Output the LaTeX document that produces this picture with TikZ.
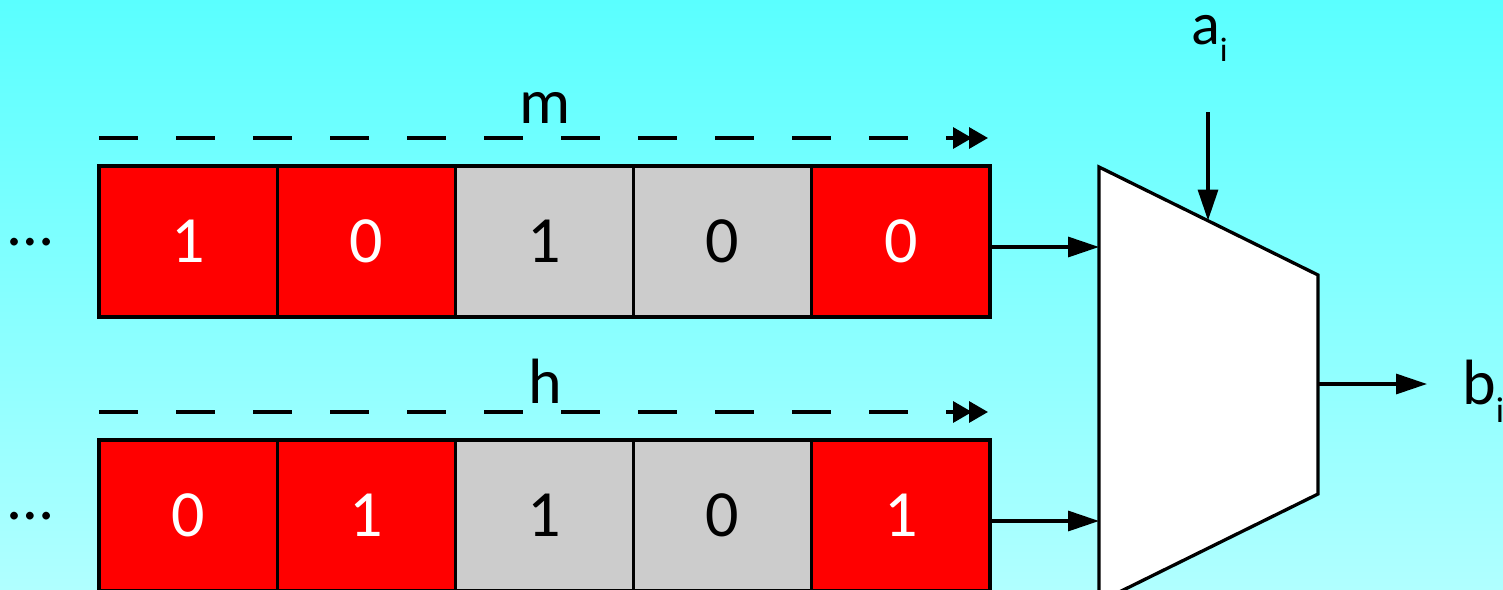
\documentclass[tikz,border=0pt]{standalone}
\usepackage{fontspec}
\setmainfont{Carlito}
\usetikzlibrary{arrows.meta}
\definecolor{bgtop}{RGB}{90,255,255}
\definecolor{bgbot}{RGB}{176,255,255}
\definecolor{bitred}{RGB}{255,0,0}
\definecolor{bitgray}{RGB}{204,204,204}
\begin{document}
\begin{tikzpicture}[x=1pt,y=-1pt,
  cell/.style={draw=black, line width=3.3pt, minimum width=178.2pt, minimum height=151pt,
    inner sep=0pt, outer sep=0pt, anchor=north west, font=\fontsize{66}{66}\selectfont},
  redbit/.style={cell, fill=bitred, text=white},
  graybit/.style={cell, fill=bitgray, text=black},
  lbl/.style={inner sep=0pt, font=\fontsize{64}{64}\selectfont},
  wire/.style={line width=3.3pt, -{Triangle[length=31pt,width=20pt]}},
  span/.style={line width=3.3pt, dash pattern=on 39pt off 38pt,
    -{Triangle[length=19pt,width=21pt,sep=-3pt]Triangle[length=19pt,width=21pt]}},
  muxbox/.style={draw=black, line width=3.3pt, fill=white, line join=miter}
]
% background
\clip (0,0) rectangle (1503,589);
\shade[top color=bgtop, bottom color=bgbot] (0,0) rectangle (1503,589);

% upper register
\node[redbit]  (m1) at (99,166)    {1};
\node[redbit]  (m2) at (277.2,166) {0};
\node[graybit] (m3) at (455.4,166) {1};
\node[graybit] (m4) at (633.6,166) {0};
\node[redbit]  (m5) at (811.8,166) {0};
\node[lbl] (mdots) at (31,242) {…};

% lower register
\node[redbit]  (h1) at (99,440)    {0};
\node[redbit]  (h2) at (277.2,440) {1};
\node[graybit] (h3) at (455.4,440) {1};
\node[graybit] (h4) at (633.6,440) {0};
\node[redbit]  (h5) at (811.8,440) {1};
\node[lbl] (hdots) at (31,516) {…};

% width markers above the registers
\coordinate (ms) at (99,138);
\coordinate (me) at (988,138);
\draw[span] (ms) -- (me);
\node[lbl, anchor=base] (mlab) at (545,123) {m};
\coordinate (hs) at (99,412);
\coordinate (he) at (988,412);
\draw[span] (hs) -- (he);
\node[lbl, anchor=base] (hlab) at (545,403) {h};

% multiplexer
\draw[muxbox] (1099,167) coordinate (mtl) -- (1318,275) coordinate (mtr)
  -- (1318,494) coordinate (mbr) -- (1099,602) coordinate (mbl) -- cycle;
\coordinate (min1) at (1099,247);
\coordinate (min2) at (1099,521);
\coordinate (msel) at (1208,220.5);
\coordinate (mout) at (1318,384);

% select input and output
\node[lbl, anchor=base west, font=\fontsize{60}{60}\selectfont] (alab) at (1191,44)
  {a\raisebox{-17pt}{\fontsize{34}{34}\selectfont i}};
\coordinate (atop) at (1208,112);
\draw[wire] (atop) -- (msel);
\node[lbl, anchor=base west] (blab) at (1462,404) {b\raisebox{-18pt}{\fontsize{36}{36}\selectfont i}};
\coordinate (bend) at (1427,384);
\draw[wire] (mout) -- (bend);

% register outputs into the multiplexer
\draw[wire] (m5.east |- min1) -- (min1);
\draw[wire] (h5.east |- min2) -- (min2);
\end{tikzpicture}
\end{document}
